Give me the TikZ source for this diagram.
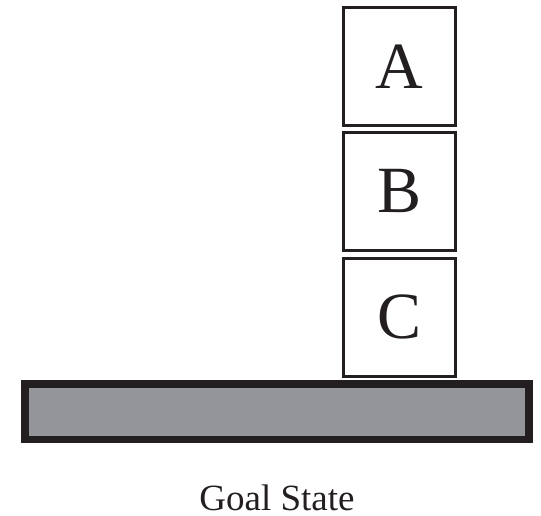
\documentclass[tikz,border=0pt]{standalone}
\usepackage{fontspec}
\setmainfont{Liberation Serif}
\definecolor{ink}{HTML}{231F20}
\definecolor{tablegray}{HTML}{939598}
\begin{document}
\begin{tikzpicture}[x=1pt,y=-1pt,
  block/.style={draw=ink, line width=3pt, fill=white, inner sep=0pt,
    minimum width=112pt, minimum height=118pt, text=ink,
    font=\fontsize{66}{66}\selectfont},
  tabletop/.style={draw=ink, line width=7.5pt, fill=tablegray, inner sep=0pt,
    minimum width=504pt, minimum height=55.5pt},
  caption/.style={text=ink, font=\fontsize{37}{37}\selectfont, inner sep=0pt}]
  \useasboundingbox (0,0) rectangle (541,515);
  % table
  \node[tabletop] (table) at (277,411.75) {};
  % stacked blocks
  \node[block] (C) at (399.5,317) {C};
  \node[block] (B) at (399.5,191) {B};
  \node[block] (A) at (399.5,66.5) {A};
  % caption
  \node[caption, anchor=base] (goal) at (277,510) {Goal State};
\end{tikzpicture}
\end{document}
